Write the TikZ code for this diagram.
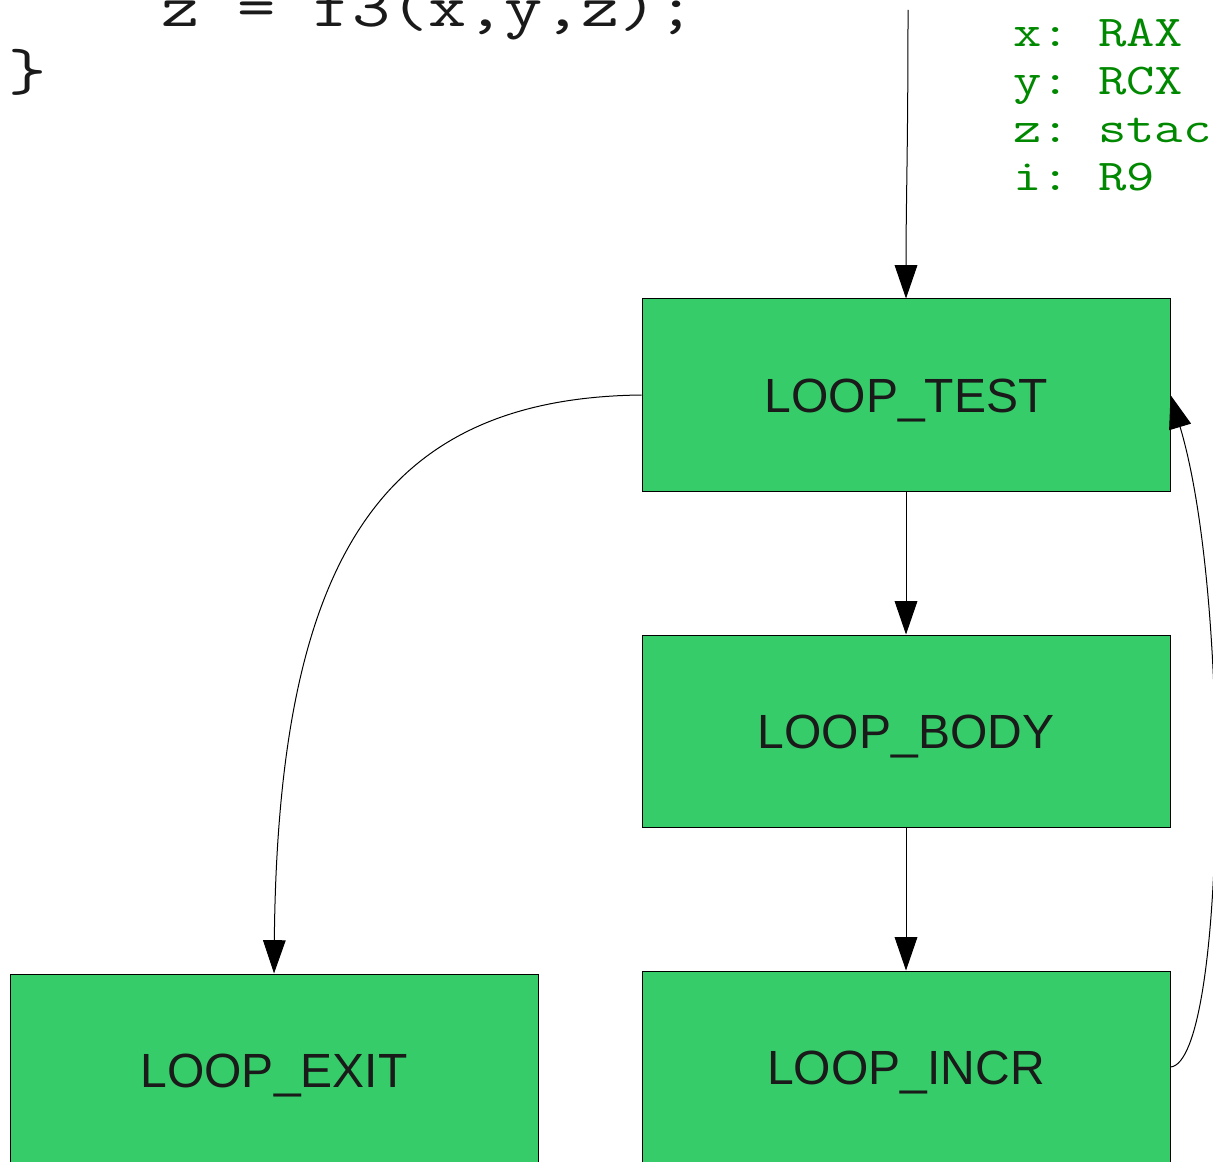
\documentclass[tikz,border=0pt]{standalone}
\usepackage{fontspec}
\setmainfont{Liberation Sans}
\newfontfamily\codefont[FakeStretch=1.25]{Latin Modern Mono}
\usetikzlibrary{arrows.meta}
\definecolor{boxgreen}{RGB}{54,204,106}
\definecolor{txtdark}{RGB}{26,26,26}
\definecolor{regreen}{RGB}{0,136,0}
\frenchspacing
\tikzset{
  blockbox/.style={draw=black, line width=0.75pt, fill=boxgreen, minimum width=396pt, minimum height=144pt, inner sep=0pt, text=txtdark, text height=25.8pt, text depth=0pt, font=\fontsize{36}{42}\selectfont},
  flow/.style={draw=black, line width=0.75pt, -{Triangle[length=25pt,width=17pt]}},
  codetext/.style={inner sep=0pt, anchor=base west, text=txtdark, font=\codefont\fontsize{44.5}{52}\selectfont\frenchspacing},
  regtext/.style={inner sep=0pt, anchor=base west, text=regreen, align=left, font=\codefont\fontsize{33}{36}\selectfont\frenchspacing}
}
\begin{document}
\begin{tikzpicture}[x=0.75pt, y=-0.75pt]
\useasboundingbox (0,0) rectangle (1213,1162);
\clip (0,0) rectangle (1213,1162);
\node[codetext] (code1) at (8,27) {\ \ \ \ z = f3(x,y,z);};
\node[codetext] (code2) at (8,91) {\}};
\node[regtext] (regs) at (1013,191) {x: RAX\\y: RCX\\z: stac\\i: R9};
\node[blockbox] (test) at (906,395) {LOOP\_TEST};
\node[blockbox] (body) at (906,731) {LOOP\_BODY};
\node[blockbox] (incr) at (906,1067) {LOOP\_INCR};
\node[blockbox] (exit) at (274,1070) {LOOP\_EXIT};
\coordinate (entry) at (908,10);
\draw[flow] (entry) .. controls (908,150) and (906,200) .. (test.north);
\draw[flow] (test.south) -- (body.north);
\draw[flow] (body.south) -- (incr.north);
\draw[flow] (test.west) .. controls (380,398) and (278,560) .. (exit.north);
\draw[flow] (incr.east) .. controls (1226,1062) and (1232,600) .. (test.east);
\end{tikzpicture}
\end{document}
